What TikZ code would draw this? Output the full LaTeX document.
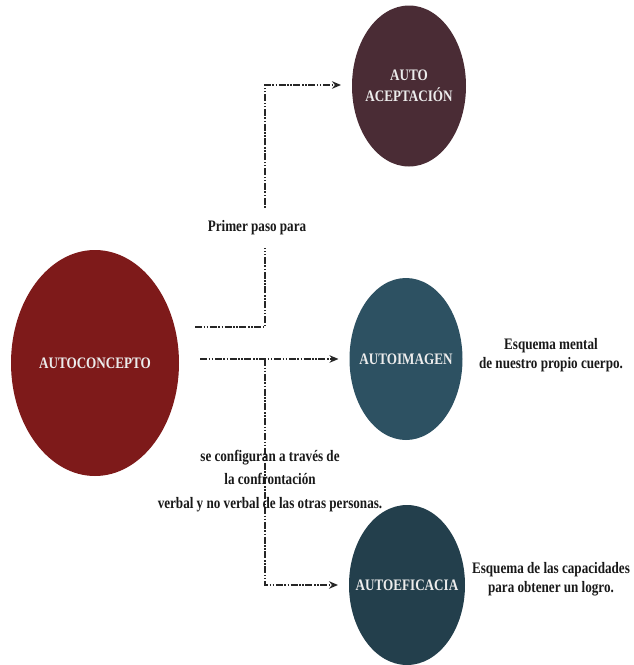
\documentclass[tikz,border=0pt]{standalone}
\usepackage{fontspec}
\setmainfont{Liberation Serif}
\newfontfamily\condbf[FakeStretch=0.82]{Liberation Serif Bold}
\usetikzlibrary{arrows.meta,shapes.geometric}

\definecolor{selfred}{HTML}{7E1A1A}
\definecolor{selfplum}{HTML}{4A2C35}
\definecolor{selfteal}{HTML}{2D5162}
\definecolor{selfdeep}{HTML}{233F4C}
\definecolor{labelwhite}{HTML}{ECECEC}

\tikzset{
  % the ellipse keeps its fixed size; its title sits on top as a centred label
  bubble/.style={ellipse, inner sep=0pt, outer sep=0pt},
  bubbletext/.style={text=labelwhite, inner sep=0pt,
    font=\condbf\fontsize{16}{21}\selectfont, align=center},
  flow/.style={line width=1.7pt, black!85,
    dash pattern=on 7pt off 1.6pt on 1.5pt off 1.6pt on 1.5pt off 1.6pt,
    -{Stealth[length=9pt,width=7.5pt]}, shorten >=11pt},
  note/.style={font=\condbf\fontsize{16}{23.5}\selectfont, align=center, text=black!90},
}

\begin{document}
\begin{tikzpicture}[x=1pt,y=-1pt]
  \useasboundingbox (0,0) rectangle (634,665);

  % concept bubbles
  \node[bubble, fill=selfred, minimum width=168pt, minimum height=226pt,
        label={[bubbletext]center:AUTOCONCEPTO}] (auto) at (95,363) {};
  \node[bubble, fill=selfplum, minimum width=114pt, minimum height=161pt,
        label={[bubbletext]center:AUTO\\ACEPTACIÓN}] (acep) at (409,86) {};
  \node[bubble, fill=selfteal, minimum width=113pt, minimum height=162pt,
        label={[bubbletext]center:AUTOIMAGEN}] (imag) at (406,359) {};
  \node[bubble, fill=selfdeep, minimum width=116pt, minimum height=160pt,
        label={[bubbletext]center:AUTOEFICACIA}] (efic) at (407,585) {};

  % connector start points and the shared vertical rail
  \coordinate (s1) at (195,327);
  \coordinate (k1) at (265,85);
  \coordinate (s2) at (200,359);
  \coordinate (k2) at (265,359);

  \draw[flow] (s1) -| (k1) -- (acep.west |- k1);
  \draw[flow] (s2) -- (imag.west);
  \draw[flow] (k2) |- (efic.west);

  % labels along the connectors
  \node[note, fill=white, inner sep=2pt, minimum height=40pt] (first) at (257,228) {Primer paso para};
  \node[note] (confront) at (270,481)
        {se configuran a través de\\la confrontación\\verbal y no verbal de las otras personas.};

  % descriptions beside the bubbles
  \node[note, font=\condbf\fontsize{16}{18.5}\selectfont] (imgnote) at (551,355)
        {Esquema mental\\de nuestro propio cuerpo.};
  \node[note, font=\condbf\fontsize{16}{19}\selectfont] (efinote) at (551,579)
        {Esquema de las capacidades\\para obtener un logro.};
\end{tikzpicture}
\end{document}
